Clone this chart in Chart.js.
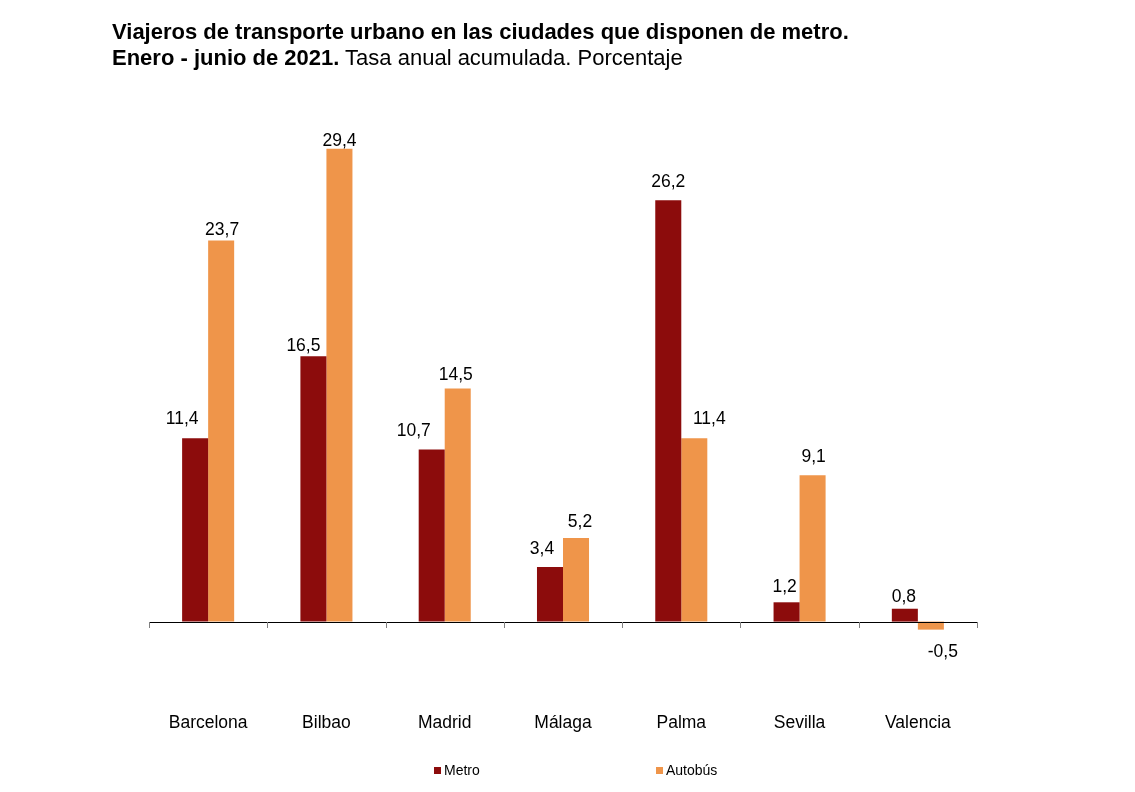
<!DOCTYPE html>
<html>
<head>
<meta charset="utf-8">
<script src="https://cdn.jsdelivr.net/npm/chart.js@4/dist/chart.umd.min.js"></script>
<style>
  body { margin: 0; background: #fff; }
  #wrap { position: relative; width: 1135px; height: 792px; }
  #title { position: absolute; left: 112px; top: 19px; font-family: "Liberation Sans", Arial, sans-serif; font-size: 22px; line-height: 26px; color: #000; white-space: nowrap; }
  #title b { font-weight: bold; }
  canvas { position: absolute; left: 0; top: 0; }
</style>
</head>
<body>
<div id="wrap">
  <canvas id="chart" width="1135" height="792"></canvas>
  <div id="title"><b>Viajeros de transporte urbano en las ciudades que disponen de metro.</b><br><b>Enero - junio de 2021.</b> Tasa anual acumulada. Porcentaje</div>
</div>
<script>
// data
const cities = ['Barcelona', 'Bilbao', 'Madrid', 'Málaga', 'Palma', 'Sevilla', 'Valencia'];
const metro = [11.4, 16.5, 10.7, 3.4, 26.2, 1.2, 0.8];
const autobus = [23.7, 29.4, 14.5, 5.2, 11.4, 9.1, -0.5];
const seriesNames = ['Metro', 'Autobús'];

// value label nudges [dx, gap] so labels dodge the neighbour bar like the original
const labelNudge = [
  [[-13, 14], [-10, 5], [-18, 14], [-8, 13], [0, 13], [-2, 10], [-1, 7]],
  [[1, 5], [0, 3], [-2, 8], [4, 11], [15, 14], [1, 13], [12, 14]]
];

const FONT = '"Liberation Sans", Arial, sans-serif';

// zero line, tick marks, value labels and legend
const extras = {
  id: 'extras',
  afterDatasetsDraw(chart) {
    const ctx = chart.ctx;
    const x = chart.scales.x, y = chart.scales.y;
    const y0 = Math.round(y.getPixelForValue(0));
    ctx.save();
    ctx.strokeStyle = '#000';
    ctx.lineWidth = 1;
    ctx.beginPath();
    ctx.moveTo(chart.chartArea.left, y0 + 0.5);
    ctx.lineTo(chart.chartArea.right, y0 + 0.5);
    ctx.stroke();
    ctx.strokeStyle = '#808080';
    const step = (x.right - x.left) / cities.length;
    ctx.beginPath();
    for (let i = 0; i <= cities.length; i++) {
      const px = Math.round(x.getPixelForValue(i) - step / 2) + 0.5;
      ctx.moveTo(px, y0);
      ctx.lineTo(px, y0 + 6);
    }
    ctx.stroke();

    ctx.fillStyle = '#000';
    ctx.font = '17.5px ' + FONT;
    ctx.textAlign = 'center';
    ctx.textBaseline = 'alphabetic';
    chart.data.datasets.forEach((ds, di) => {
      chart.getDatasetMeta(di).data.forEach((bar, i) => {
        const v = ds.data[i];
        const txt = v.toFixed(1).replace('.', ',');
        const [dx, gap] = labelNudge[di][i];
        if (v >= 0) {
          ctx.fillText(txt, bar.x + dx, bar.y - gap);
        } else {
          ctx.fillText(txt, bar.x + dx, bar.y + gap + 13);
        }
      });
    });

    // legend
    const legendX = [434, 656];
    ctx.font = '14px ' + FONT;
    ctx.textAlign = 'left';
    ctx.textBaseline = 'middle';
    chart.data.datasets.forEach((ds, di) => {
      ctx.fillStyle = ds.backgroundColor;
      ctx.fillRect(legendX[di], 767, 7, 7);
      ctx.fillStyle = '#000';
      ctx.fillText(ds.label, legendX[di] + 10, 771);
    });
    ctx.restore();
  }
};

new Chart(document.getElementById('chart'), {
  type: 'bar',
  data: {
    labels: cities,
    datasets: [
      { label: seriesNames[0], data: metro, backgroundColor: '#8C0C0C' },
      { label: seriesNames[1], data: autobus, backgroundColor: '#EF954A' }
    ]
  },
  options: {
    responsive: false,
    animation: false,
    categoryPercentage: 0.44,
    barPercentage: 1,
    layout: { padding: { left: 149, right: 158, top: 107, bottom: 47 } },
    plugins: { legend: { display: false }, tooltip: { enabled: false } },
    scales: {
      x: {
        grid: { display: false, drawTicks: false },
        border: { display: false },
        ticks: { color: '#000', font: { family: FONT, size: 17.5 }, padding: 11 }
      },
      y: {
        display: false,
        min: -5,
        max: 32
      }
    }
  },
  plugins: [extras]
});
</script>
</body>
</html>
